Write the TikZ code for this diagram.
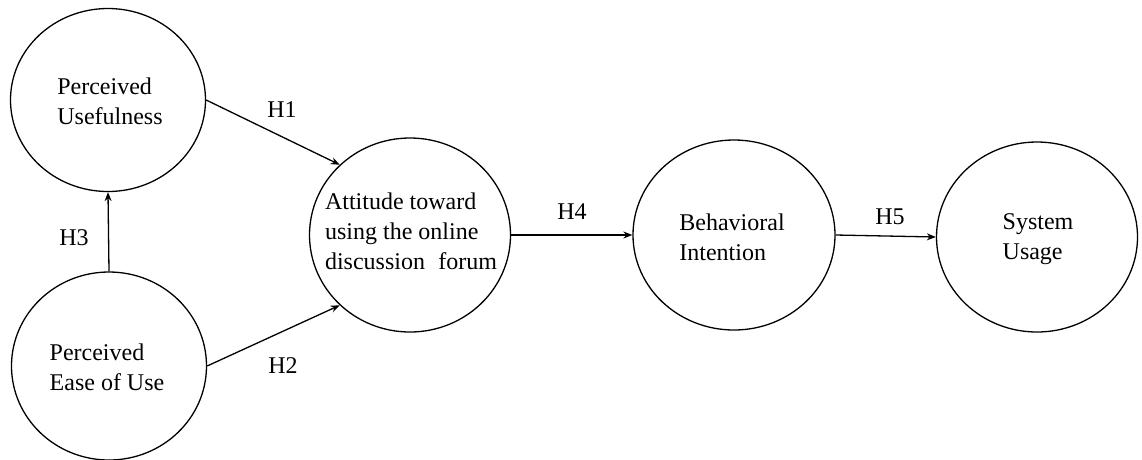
\documentclass[tikz,border=0pt]{standalone}
\usepackage{fontspec}
\setmainfont{Liberation Serif}
\usetikzlibrary{shapes.geometric,arrows.meta}
\begin{document}
\begin{tikzpicture}[x=1pt,y=-1pt,
  construct/.style={draw, ellipse, line width=1.3pt, inner sep=0pt},
  ctext/.style={align=left, inner sep=0pt, font=\fontsize{24}{30}\selectfont},
  hyp/.style={inner sep=0pt, font=\fontsize{24}{30}\selectfont},
  path/.style={line width=1.3pt, -{Stealth[length=9pt,width=7pt]}}]
\useasboundingbox (0,0) rectangle (1142,459);
% latent constructs
\node[construct, minimum width=195pt, minimum height=183pt] (pu)   at (108,100) {};
\node[construct, minimum width=195pt, minimum height=188pt] (peou) at (109,366) {};
\node[construct, minimum width=201pt, minimum height=194pt] (att)  at (410,235) {};
\node[construct, minimum width=202pt, minimum height=190pt] (bi)   at (734,235) {};
\node[construct, minimum width=201pt, minimum height=190pt] (su)   at (1037,237) {};
% construct names
\node[ctext] (putxt)   at (110,101) {Perceived\\Usefulness};
\node[ctext] (peoutxt) at (107,367) {Perceived\\Ease of Use};
\node[ctext] (atttxt)  at (411,231) {Attitude toward\\using the online\\discussion\hspace{0.55em}forum};
\node[ctext] (bitxt)   at (732,237) {Behavioral\\Intention};
\node[ctext] (sutxt)   at (1038,239) {System\\Usage};
% hypothesised paths
\draw[path] (pu.east)    -- (att.135);
\draw[path] (peou.east)  -- (att.225);
\draw[path] (peou.north) -- (pu.south);
\draw[path] (att.east)   -- (bi.west);
\draw[path] (bi.east)    -- (su.west);
% hypothesis labels
\node[hyp] (h1) at (282,110) {H1};
\node[hyp] (h2) at (283,366) {H2};
\node[hyp] (h3) at (74,238) {H3};
\node[hyp] (h4) at (572,212) {H4};
\node[hyp] (h5) at (890,217) {H5};
\end{tikzpicture}
\end{document}
